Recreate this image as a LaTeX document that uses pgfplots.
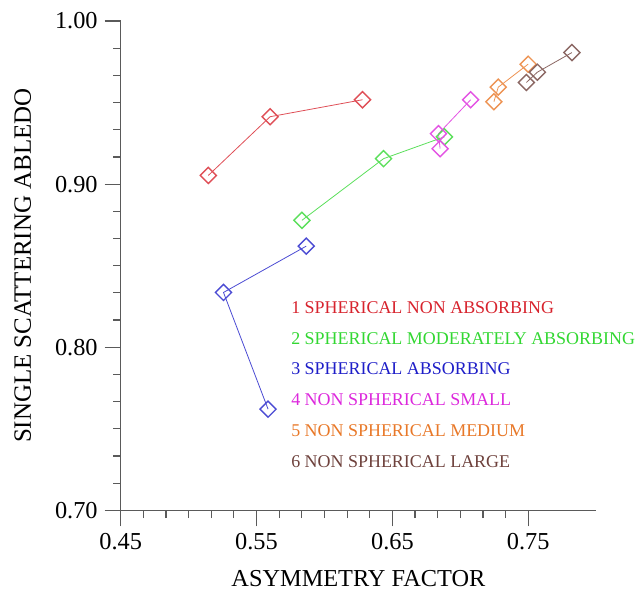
\documentclass[border=0pt]{standalone}
\usepackage{pgfplots}
\pgfplotsset{compat=1.18}
\usepackage{fontspec}
\setmainfont{Liberation Serif}

\definecolor{c1}{RGB}{215,35,45}
\definecolor{c2}{RGB}{50,215,50}
\definecolor{c3}{RGB}{30,30,200}
\definecolor{c4}{RGB}{220,40,220}
\definecolor{c5}{RGB}{232,120,40}
\definecolor{c6}{RGB}{110,65,60}
\definecolor{axgray}{RGB}{90,90,90}

\begin{document}
\begin{tikzpicture}[legtext/.style={anchor=base west, inner sep=0pt, font=\fontsize{9}{11}\selectfont}]
\begin{axis}[
    scale only axis,
    width=238.5pt, height=245.5pt,
    xmin=0.45, xmax=0.80,
    ymin=0.70, ymax=1.00,
    axis lines=left,
    axis line style={-, axgray, line width=0.6pt},
    xtick={0.45,0.55,0.65,0.75},
    ytick={0.70,0.80,0.90,1.00},
    minor x tick num=5,
    minor y tick num=5,
    tick align=outside,
    major tick length=8pt,
    minor tick length=3.8pt,
    tick style={axgray, line width=0.6pt},
    /pgf/number format/assume math mode=true,
    /pgf/number format/.cd, fixed, fixed zerofill, precision=2,
    /pgfplots/.cd,
    ticklabel style={font=\fontsize{12.2}{14}\selectfont},
    xlabel={ASYMMETRY FACTOR},
    ylabel={SINGLE SCATTERING ABLEDO},
    xlabel style={font=\fontsize{12.2}{14}\selectfont, at={(axis description cs:0.5,-0.1385)}, anchor=center},
    ylabel style={font=\fontsize{12.5}{14}\selectfont, at={(axis description cs:-0.206,0.5)}, anchor=center},
    every axis plot/.append style={line width=0.4pt, mark=square, mark size=2.85pt,
        mark options={solid, rotate=45, line width=0.7pt}},
    clip=false,
]
\addplot[c1!80] coordinates {(0.5145,0.9053) (0.5600,0.9413) (0.6280,0.9517)};
\addplot[c2!80] coordinates {(0.5834,0.8778) (0.6435,0.9156) (0.6883,0.9290)};
\addplot[c3!80] coordinates {(0.5866,0.8620) (0.5257,0.8336) (0.5585,0.7621)};
\addplot[c4!80] coordinates {(0.6851,0.9217) (0.6839,0.9309) (0.7076,0.9517)};
\addplot[c5!80] coordinates {(0.7247,0.9505) (0.7279,0.9594) (0.7499,0.9735)};
\addplot[c6!80] coordinates {(0.7486,0.9623) (0.7567,0.9686) (0.7821,0.9806)};

\node[legtext, text=c1] at (rel axis cs:0.358,0.403) {1 SPHERICAL NON ABSORBING};
\node[legtext, text=c2] at (rel axis cs:0.358,0.340) {2 SPHERICAL MODERATELY ABSORBING};
\node[legtext, text=c3] at (rel axis cs:0.358,0.277) {3 SPHERICAL ABSORBING};
\node[legtext, text=c4] at (rel axis cs:0.358,0.214) {4 NON SPHERICAL SMALL};
\node[legtext, text=c5] at (rel axis cs:0.358,0.151) {5 NON SPHERICAL MEDIUM};
\node[legtext, text=c6] at (rel axis cs:0.358,0.088) {6 NON SPHERICAL LARGE};
\end{axis}
\path ([xshift=-60.5pt,yshift=-39.5pt]current axis.south west) rectangle ([xshift=18.5pt,yshift=10.5pt]current axis.north east);
\end{tikzpicture}
\end{document}
